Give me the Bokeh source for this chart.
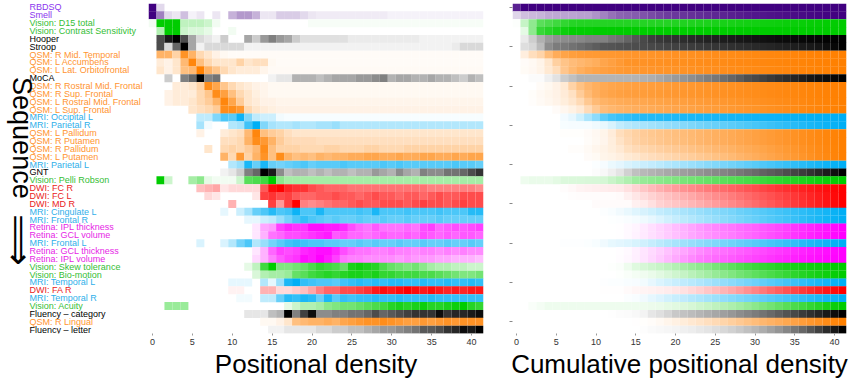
import numpy as np
from bokeh.plotting import figure
from bokeh.layouts import row
from bokeh.models import ColumnDataSource, FixedTicker
from bokeh.core.properties import value
from bokeh.embed import file_html
from bokeh.resources import INLINE

# ---- data -------------------------------------------------------------
labels = ["RBDSQ", "Smell", "Vision: D15 total", "Vision: Contrast Sensitivity", "Hooper", "Stroop",
          "QSM: R Mid. Temporal", "QSM: L Accumbens", "QSM: L Lat. Orbitofrontal", "MoCA",
          "QSM: R Rostral Mid. Frontal", "QSM: R Sup. Frontal", "QSM: L Rostral Mid. Frontal",
          "QSM: L Sup. Frontal", "MRI: Occipital L", "MRI: Parietal R", "QSM: L Pallidum",
          "QSM: R Putamen", "QSM: R Pallidum", "QSM: L Putamen", "MRI: Parietal L", "GNT",
          "Vision: Pelli Robson", "DWI: FC R", "DWI: FC L", "DWI: MD R", "MRI: Cingulate L",
          "MRI: Frontal R", "Retina: IPL thickness", "Retina: GCL volume", "MRI: Frontal L",
          "Retina: GCL thickness", "Retina: IPL volume", "Vision: Skew tolerance",
          "Vision: Bio-motion", "MRI: Temporal L", "DWI: FA R", "MRI: Temporal R",
          "Vision: Acuity", "Fluency \u2013 category", "QSM: R Lingual", "Fluency \u2013 letter"]

groups = ["purple", "purple", "green", "green", "black", "black",
          "orange", "orange", "orange", "black",
          "orange", "orange", "orange", "orange", "blue", "blue", "orange",
          "orange", "orange", "orange", "blue", "black",
          "green", "red", "red", "red", "blue",
          "blue", "magenta", "magenta", "blue",
          "magenta", "magenta", "green",
          "green", "blue", "red", "blue",
          "green", "black", "orange", "black"]

positions = list(range(42))
x_ticks = [0, 5, 10, 15, 20, 25, 30, 35, 40]
row_ticks = [0, 5, 10, 15, 20, 25, 30, 35, 40]

# positional density per event (percent of row maximum), positions 0..41
rbdsq = [100,15,0,0,0,0,0,0,0,0, 0,0,0,0,0,0,0,0,0,0, 0,0,0,0,0,0,0,0,0,0, 0,0,0,0,0,0,0,0,0,0, 0,0]
smell = [100,50,15,10,25,5,10,0,10,0, 30,40,40,30,10,10,20,20,20,15, 10,8,8,8,8,8,8,8,8,8, 5,5,5,5,5,5,5,5,5,5, 5,5]
d15_total = [5,100,100,100,25,25,25,20,5,0, 0,0,0,0,0,0,0,0,0,0, 3,3,3,3,3,3,3,3,3,3, 3,3,3,3,3,3,3,3,3,3, 3,3]
contrast_sens = [0,30,100,100,20,15,15,10,0,0, 5,0,0,0,0,0,0,0,0,0, 0,0,0,0,0,0,0,0,0,0, 0,0,0,0,0,0,0,0,0,0, 0,0]
hooper = [0,70,90,100,70,35,15,10,5,20, 0,0,35,20,40,50,40,35,20,12, 12,12,12,12,12,8,8,8,8,8, 8,8,8,8,5,5,5,5,5,5, 5,5]
stroop = [0,70,15,60,100,35,5,15,15,15, 15,15,5,5,5,5,5,5,5,5, 5,5,5,5,5,5,5,5,5,5, 5,5,5,5,5,5,5,5,8,15, 15,15]
qsm_r_mid_temporal = [0,60,60,35,85,60,30,20,10,5, 3,3,3,3,3,3,3,3,3,3, 3,3,3,3,3,3,3,3,3,3, 3,3,3,3,3,3,3,3,3,3, 3,3]
qsm_l_accumbens = [0,15,10,20,55,95,50,30,20,20, 20,35,20,25,25,5,3,3,3,3, 3,3,3,3,3,3,3,3,3,3, 3,3,3,3,3,3,3,3,3,3, 3,3]
qsm_l_lat_orbitofrontal = [0,20,10,20,50,55,100,60,45,30, 20,15,15,15,8,4,4,4,4,4, 4,4,4,4,4,4,4,4,4,4, 4,4,4,4,4,4,4,4,4,4, 4,4]
moca = [0,0,20,0,50,60,100,50,55,0, 0,0,0,0,0,5,10,10,30,30, 30,25,30,35,35,35,40,40,45,50, 30,35,35,30,30,35,30,30,25,20, 30,25]
qsm_r_rostral_mid_frontal = [0,0,0,15,15,20,35,90,70,45, 30,20,15,10,8,5,5,5,5,5, 5,5,5,5,5,5,5,5,5,5, 5,5,5,5,5,5,5,5,5,5, 5,5]
qsm_r_sup_frontal = [0,0,10,15,15,15,30,45,90,75, 50,30,20,12,8,5,5,5,5,5, 5,5,5,5,5,5,5,5,5,5, 5,5,5,5,5,5,5,5,5,5, 5,5]
qsm_l_rostral_mid_frontal = [0,0,10,15,15,20,30,40,60,95, 70,40,20,15,10,10,8,8,8,8, 8,8,8,8,8,8,8,8,8,8, 8,8,8,8,8,8,8,8,8,8, 8,8]
qsm_l_sup_frontal = [0,0,0,0,0,20,25,30,40,90, 90,80,30,20,15,12,10,10,10,10, 10,10,10,10,10,10,10,10,10,10, 10,10,10,10,10,10,10,10,10,10, 10,10]
mri_occipital_l = [0,0,0,0,0,0,25,25,50,70, 65,95,50,25,20,20,5,3,3,3, 3,3,3,3,3,3,3,3,3,3, 3,3,3,3,3,3,3,3,3,3, 3,3]
mri_parietal_r = [0,0,0,0,0,0,35,5,0,0, 30,35,75,100,50,35,30,30,35,30, 30,35,35,40,30,30,30,30,30,30, 30,30,30,30,30,30,30,30,30,30, 30,30]
qsm_l_pallidum = [0,0,0,0,0,0,10,0,0,15, 20,25,55,95,50,40,35,25,20,20, 20,20,20,20,20,20,20,20,20,20, 20,20,20,20,20,20,20,20,20,20, 20,20]
qsm_r_putamen = [0,0,0,0,0,0,0,0,0,25, 25,30,60,90,80,60,40,30,28,28, 28,25,25,25,25,25,25,25,25,25, 25,25,25,25,25,25,25,25,25,25, 25,25]
qsm_r_pallidum = [0,0,0,0,0,0,0,20,0,30, 35,30,40,55,90,50,35,35,35,30, 30,30,35,35,30,30,30,35,35,30, 30,30,35,35,35,35,35,35,35,35, 35,35]
qsm_l_putamen = [0,0,0,0,0,0,0,0,0,60, 30,80,35,60,85,50,90,60,50,55, 50,60,55,60,60,65,65,70,70,65, 65,70,65,65,70,70,65,65,70,65, 70,70]
mri_parietal_l = [0,0,0,0,0,0,0,0,0,0, 30,40,90,60,90,60,55,60,65,70, 60,65,65,65,70,65,65,65,65,70, 65,70,65,65,65,65,65,65,70,65, 65,60]
gnt = [0,0,0,0,0,0,0,0,0,5, 10,20,50,60,100,90,45,25,30,30, 25,30,25,30,30,25,30,30,40,35, 30,45,35,30,50,45,45,55,55,60, 70,80]
pelli_robson = [0,100,20,0,0,35,45,10,5,5, 5,20,65,70,75,100,45,35,35,35, 35,35,35,35,35,35,35,35,35,35, 35,35,35,35,35,35,35,35,35,35, 35,35]
dwi_fc_r = [0,0,0,0,0,0,25,30,35,10, 15,15,15,15,65,95,100,85,80,80, 70,65,60,60,60,55,55,55,55,55, 55,55,55,55,55,50,50,50,50,50, 50,45]
dwi_fc_l = [0,0,0,0,0,0,0,15,10,0, 0,0,0,10,75,80,70,75,65,60, 60,65,65,70,65,65,60,65,70,65, 65,60,65,65,60,65,70,65,65,70, 70,70]
dwi_md_r = [0,0,0,0,0,0,0,0,0,0, 30,0,0,0,0,75,40,75,100,50, 45,50,55,60,60,65,70,65,65,70, 70,70,65,70,75,70,70,65,70,75, 70,70]
mri_cingulate_l = [0,0,0,0,0,0,0,0,0,10, 0,20,35,60,70,85,70,75,95,70, 70,90,70,70,70,70,75,70,90,70, 70,70,75,70,70,70,75,70,70,70, 85,85]
mri_frontal_r = [0,0,0,0,0,0,0,0,0,0, 0,0,10,10,20,25,40,55,70,80, 70,65,60,65,60,60,65,60,60,65, 60,60,65,60,60,60,65,60,60,60, 60,60]
retina_ipl_thickness = [0,0,0,0,0,0,0,0,0,0, 0,0,0,10,35,40,75,85,80,80, 95,95,90,90,85,70,60,55,65,55, 55,55,60,55,70,75,60,65,70,65, 70,75]
retina_gcl_volume = [0,0,0,0,0,0,0,0,0,0, 0,0,0,10,30,55,60,70,70,75, 80,85,90,65,70,60,60,55,60,65, 60,60,65,60,70,65,60,65,60,65, 65,60]
mri_frontal_l = [0,0,0,0,0,0,15,0,0,15, 30,55,70,30,40,55,65,75,80,75, 70,70,65,65,60,60,65,60,65,60, 60,65,60,60,65,60,60,65,60,60, 65,60]
retina_gcl_thickness = [0,0,0,0,0,0,0,0,0,0, 0,0,0,10,30,60,75,70,75,85, 90,95,95,85,70,60,55,55,50,50, 55,50,50,45,50,50,45,50,45,50, 45,45]
retina_ipl_volume = [0,0,0,0,0,0,0,0,0,0, 0,0,0,15,30,50,65,75,80,95, 90,100,90,75,55,50,50,45,45,45, 45,40,45,40,40,40,35,35,30,30, 30,25]
skew_tolerance = [0,0,0,0,0,0,0,0,0,0, 0,0,10,25,75,100,50,50,55,60, 70,80,75,70,60,90,95,90,85,70, 60,55,50,55,45,35,30,30,25,25, 20,20]
bio_motion = [0,0,0,0,0,0,0,0,0,0, 0,0,0,15,30,35,35,40,60,65, 75,80,85,80,85,90,90,85,90,80, 80,75,75,75,70,70,65,60,55,50, 50,55]
mri_temporal_l = [0,0,0,0,0,0,0,0,0,0, 10,10,10,0,30,10,40,90,100,80, 75,70,70,65,75,80,85,80,85,80, 85,85,80,80,85,80,80,85,80,80, 85,80]
dwi_fa_r = [0,0,0,0,0,0,0,0,0,0, 5,5,0,0,30,30,15,15,20,25, 35,50,60,60,70,70,75,80,90,95, 90,95,100,95,90,95,90,85,90,85, 90,90]
mri_temporal_r = [0,0,0,0,0,0,0,0,0,0, 0,5,5,0,25,25,60,85,80,90, 85,60,90,65,80,75,80,80,85,80, 80,85,80,80,80,85,80,80,80,80, 80,80]
acuity = [0,0,40,40,40,0,0,0,0,0, 0,0,0,0,0,0,0,10,20,30, 30,35,45,50,55,55,60,65,70,75, 85,90,85,90,95,85,85,90,95,100, 85,80]
fluency_category = [0,0,0,0,0,0,0,0,0,0, 0,0,10,10,10,25,30,100,50,75, 95,45,45,50,50,55,55,60,70,60, 65,70,75,80,80,80,95,80,85,85, 90,95]
qsm_r_lingual = [0,0,0,0,0,0,0,0,0,0, 0,0,0,0,5,5,10,20,50,55, 60,60,65,60,70,75,80,85,85,90, 85,80,75,75,80,75,80,85,80,85, 85,85]
fluency_letter = [0,0,0,0,0,0,0,0,0,0, 0,0,0,0,0,5,5,10,10,10, 10,15,15,20,20,25,25,30,35,40, 40,45,50,55,65,65,70,80,85,95, 90,100]

density = [rbdsq, smell, d15_total, contrast_sens, hooper, stroop, qsm_r_mid_temporal,
           qsm_l_accumbens, qsm_l_lat_orbitofrontal, moca, qsm_r_rostral_mid_frontal,
           qsm_r_sup_frontal, qsm_l_rostral_mid_frontal, qsm_l_sup_frontal, mri_occipital_l,
           mri_parietal_r, qsm_l_pallidum, qsm_r_putamen, qsm_r_pallidum, qsm_l_putamen,
           mri_parietal_l, gnt, pelli_robson, dwi_fc_r, dwi_fc_l, dwi_md_r, mri_cingulate_l,
           mri_frontal_r, retina_ipl_thickness, retina_gcl_volume, mri_frontal_l,
           retina_gcl_thickness, retina_ipl_volume, skew_tolerance, bio_motion,
           mri_temporal_l, dwi_fa_r, mri_temporal_r, acuity, fluency_category,
           qsm_r_lingual, fluency_letter]

# ---- styles -------------------------------------------------------------
cell_rgb = {"purple": (64, 0, 128), "green": (0, 204, 0), "black": (0, 0, 0),
            "orange": (255, 128, 0), "blue": (0, 175, 245), "red": (255, 0, 0),
            "magenta": (255, 0, 255)}
text_col = {"purple": "#8A35EE", "green": "#35BE35", "black": "#000000",
            "orange": "#FF9430", "blue": "#2FAFEA", "red": "#EA1C22",
            "magenta": "#E626E6"}
FONT = "Liberation Sans"


def blend(rgb, a):
    a = max(0.0, min(1.0, a))
    return "#%02x%02x%02x" % tuple(int(round(255 - (255 - c) * a)) for c in rgb)


def cells(matrix):
    xs, ys, cs = [], [], []
    for r, vals in enumerate(matrix):
        for p, v in zip(positions, vals):
            if v > 0.005:
                xs.append(p)
                ys.append(r)
                cs.append(blend(cell_rgb[groups[r]], v))
    return ColumnDataSource(dict(x=xs, y=ys, c=cs))


pos_matrix = [[v / 100.0 for v in row_vals] for row_vals in density]
cum_matrix = []
for row_vals in density:
    cs = np.cumsum(np.array(row_vals, dtype=float))
    cum_matrix.append(list(cs / cs[-1]))

H = 381
MT = 3
MB = 45
nrows = len(labels)
yr = (nrows - 0.5, -0.5)


def style_heat(p, title):
    p.grid.visible = False
    p.outline_line_color = None
    p.background_fill_color = "white"
    p.border_fill_color = "white"
    ax = p.xaxis[0]
    ax.ticker = FixedTicker(ticks=x_ticks)
    ax.axis_line_color = None
    ax.major_tick_line_color = "#999999"
    ax.major_tick_in = 0
    ax.major_tick_out = 2
    ax.minor_tick_line_color = None
    ax.major_label_standoff = 3
    ax.major_label_text_font = FONT
    ax.major_label_text_font_size = "9px"
    ax.major_label_text_color = "#333333"
    ax.axis_label = title
    ax.axis_label_text_font = FONT
    ax.axis_label_text_font_size = "26px"
    ax.axis_label_text_font_style = "normal"
    ax.axis_label_text_color = "#000000"
    ax.axis_label_standoff = 1


# labels panel
lab = figure(width=148, height=H, x_range=(0, 148), y_range=yr,
             x_axis_location=None, y_axis_location=None,
             toolbar_location=None, output_backend="svg",
             min_border_left=0, min_border_right=0, min_border_top=MT, min_border_bottom=MB)
lab.grid.visible = False
lab.outline_line_color = None
lab.text(x=[29] * nrows, y=list(range(nrows)), text=labels,
         text_color=[text_col[g] for g in groups],
         text_font=value(FONT), text_font_size="9px",
         text_align="left", text_baseline="middle")
lab.text(x=[21], y=[16.6], text=["Sequence"], angle=-np.pi / 2,
         text_font=value(FONT), text_font_size="27px", text_color="#000000",
         text_align="center", text_baseline="middle")
lab.text(x=[19], y=[29.6], text=["\u27F9"], angle=-np.pi / 2,
         text_font=value("DejaVu Sans"), text_font_size="36px", text_color="#000000",
         text_align="center", text_baseline="middle")

# positional density
pl = figure(width=345, height=H, x_range=(-0.5, 41.5), y_range=yr,
            y_axis_location=None, toolbar_location=None, output_backend="svg",
            min_border_left=0, min_border_right=10, min_border_top=MT, min_border_bottom=MB)
pl.rect(x="x", y="y", width=1, height=1, fill_color="c", line_color=None,
        dilate=True, source=cells(pos_matrix))
style_heat(pl, "Positional density")

# cumulative positional density
pr = figure(width=357, height=H, x_range=(-0.5, 41.5), y_range=yr,
            toolbar_location=None, output_backend="svg",
            min_border_left=19, min_border_right=4, min_border_top=MT, min_border_bottom=MB)
pr.rect(x="x", y="y", width=1, height=1, fill_color="c", line_color=None,
        dilate=True, source=cells(cum_matrix))
style_heat(pr, "Cumulative positional density")
ya = pr.yaxis[0]
ya.ticker = FixedTicker(ticks=row_ticks)
ya.major_label_overrides = {t: "" for t in row_ticks}
ya.axis_line_color = None
ya.major_tick_line_color = "#888888"
ya.major_tick_in = 0
ya.major_tick_out = 3
ya.minor_tick_line_color = None

layout = row(lab, pl, pr)
open("out.html", "w").write(file_html(layout, INLINE))
